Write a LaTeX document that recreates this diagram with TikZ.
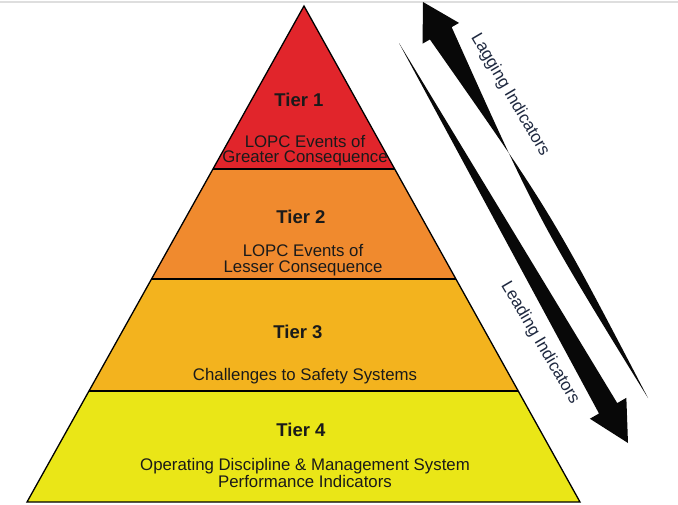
\documentclass[tikz,border=0pt]{standalone}
\usepackage{fontspec}
\setmainfont{Liberation Sans}
\usetikzlibrary{calc}
\definecolor{tierone}{HTML}{E1252B}
\definecolor{tiertwo}{HTML}{F08A2E}
\definecolor{tierthree}{HTML}{F3B31E}
\definecolor{tierfour}{HTML}{EAE617}
\definecolor{labelnavy}{HTML}{1F2940}
\definecolor{txt}{HTML}{1A1A1A}
\begin{document}
\begin{tikzpicture}[x=1pt,y=1pt,
  tiertitle/.style={font=\fontsize{18.5}{20}\selectfont\bfseries, text=txt, inner sep=0, anchor=base},
  tierbody/.style={font=\fontsize{16.8}{16.2}\selectfont, text=txt, align=center, inner sep=0, anchor=base},
  arrowlabel/.style={font=\fontsize{17}{20}\selectfont, text=labelnavy, rotate=-59.5, inner sep=0},
  divider/.style={line width=1.8pt, black},
  outline/.style={line width=1.3pt, black, line join=miter},
  bigarrow/.style={fill=black!97, draw=none}]
\useasboundingbox (0,0) rectangle (678,-504);
\fill[white] (0,0) rectangle (678,-504);
\draw[black!13, line width=2pt] (0,-1.5) -- (678,-1.5);

% pyramid geometry
\coordinate (apex) at (304,-6);
\coordinate (bl) at (27,-502);
\coordinate (br) at (580,-502);
\coordinate (l1) at ($(apex)!0.3286!(bl)$);
\coordinate (r1) at ($(apex)!0.3286!(br)$);
\coordinate (l2) at ($(apex)!0.5504!(bl)$);
\coordinate (r2) at ($(apex)!0.5504!(br)$);
\coordinate (l3) at ($(apex)!0.7762!(bl)$);
\coordinate (r3) at ($(apex)!0.7762!(br)$);

\fill[tierone] (apex) -- (l1) -- (r1) -- cycle;
\fill[tiertwo] (l1) -- (l2) -- (r2) -- (r1) -- cycle;
\fill[tierthree] (l2) -- (l3) -- (r3) -- (r2) -- cycle;
\fill[tierfour] (l3) -- (bl) -- (br) -- (r3) -- cycle;
\draw[divider] (l1) -- (r1);
\draw[divider] (l2) -- (r2);
\draw[divider] (l3) -- (r3);
\draw[outline] (apex) -- (bl) -- (br) -- cycle;

% texts (base anchor of a two-line node is the last line's baseline)
\node[tiertitle] (t1) at (299,-106.5) {Tier 1};
\node[tierbody, font=\fontsize{16.8}{15}\selectfont] (b1) at (305,-162) {LOPC Events of\\Greater Consequence};
\node[tiertitle] (t2) at (301,-223) {Tier 2};
\node[tierbody] (b2) at (303,-272.7) {LOPC Events of\\Lesser Consequence};
\node[tiertitle] (t3) at (298,-338) {Tier 3};
\node[tierbody] (b3) at (305,-380) {Challenges to Safety Systems};
\node[tiertitle] (t4) at (301,-436) {Tier 4};
\node[tierbody] (b4) at (305,-487) {Operating Discipline \& Management System\\Performance Indicators};

% lagging arrow (points up-left)
\coordinate (lagTip) at (423,-2);
\coordinate (lagTail) at (648,-398);
\coordinate (lagBase) at ($(lagTip)!36pt!(lagTail)$);
\coordinate (lagMid) at ($(lagBase)!0.5!(lagTail)$);
\coordinate (lagMidA) at ($(lagMid)!7.5pt!90:(lagTail)$);
\coordinate (lagMidB) at ($(lagMid)!7.5pt!-90:(lagTail)$);
\coordinate (lagBarbA) at ($(lagBase)!21pt!-90:(lagTip)$);
\coordinate (lagBarbB) at ($(lagBase)!21pt!90:(lagTip)$);
\coordinate (lagShaftA) at ($(lagBase)!12.5pt!-90:(lagTip)$);
\coordinate (lagShaftB) at ($(lagBase)!12.5pt!90:(lagTip)$);
\fill[bigarrow] (lagTip) -- (lagBarbA) -- (lagShaftA) .. controls (lagMidB) .. (lagTail)
  .. controls (lagMidA) .. (lagShaftB) -- (lagBarbB) -- cycle;

% leading arrow (points down-right)
\coordinate (leadTip) at (628,-443);
\coordinate (leadTail) at (399,-43);
\coordinate (leadBase) at ($(leadTip)!40pt!(leadTail)$);
\coordinate (leadBarbA) at ($(leadBase)!21pt!-90:(leadTip)$);
\coordinate (leadBarbB) at ($(leadBase)!21pt!90:(leadTip)$);
\coordinate (leadShaftA) at ($(leadBase)!10.5pt!-90:(leadTip)$);
\coordinate (leadShaftB) at ($(leadBase)!10.5pt!90:(leadTip)$);
\fill[bigarrow] (leadTip) -- (leadBarbA) -- (leadShaftA) -- (leadTail) -- (leadShaftB) -- (leadBarbB) -- cycle;

\node[arrowlabel] (lagLabel) at (510,-95) {Lagging Indicators};
\node[arrowlabel] (leadLabel) at (540,-343) {Leading Indicators};
\end{tikzpicture}
\end{document}
